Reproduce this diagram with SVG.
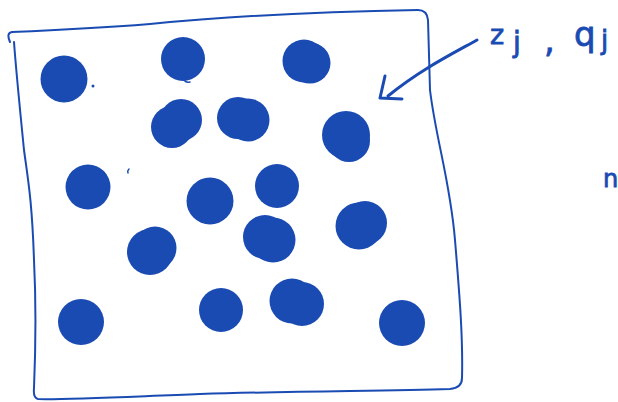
<svg xmlns="http://www.w3.org/2000/svg" width="618" height="402" viewBox="0 0 618 402">
<style>
.ink{fill:none;stroke:#1a4bb3;stroke-linecap:round;stroke-linejoin:round}
.dot{fill:#1a4bb3}
.t{font-family:"DejaVu Sans","Liberation Sans",sans-serif;fill:#1a4bb3;stroke:#1a4bb3;stroke-width:0.8}
</style>
<rect width="618" height="402" fill="#fff"/>
<g id="frame">
<path class="ink" stroke-width="2" d="M10,42 Q6,33 12,32 C60,30 100,28 150,24 C220,17 300,12 418,10 Q427,10 428,20 L430,90 C436,140 450,180 455,240 C460,300 463,340 462,378 Q462,388 450,389 C380,391 300,391 200,394 C120,397 60,400 38,399 Q33,398 34,388 C36,340 36,300 34,260 C32,200 28,180 24,150 C20,110 16,70 14,42"/>
</g>
<g id="dots">
<circle class="dot" cx="64" cy="79" r="23.5"/>
<circle class="dot" cx="183" cy="59" r="22"/>
<circle class="dot" cx="304" cy="61" r="21.5"/><circle class="dot" cx="310" cy="63" r="20.5"/>
<circle class="dot" cx="172" cy="127" r="21"/><circle class="dot" cx="181" cy="120" r="21"/>
<circle class="dot" cx="238" cy="118" r="21"/><circle class="dot" cx="248" cy="120" r="21.5"/>
<circle class="dot" cx="346" cy="135" r="24"/><circle class="dot" cx="349" cy="141" r="21"/>
<circle class="dot" cx="88" cy="187" r="22.5"/>
<circle class="dot" cx="210" cy="201" r="23.5"/>
<circle class="dot" cx="277" cy="186" r="22"/>
<circle class="dot" cx="150" cy="252" r="23"/><circle class="dot" cx="155" cy="248" r="21.5"/>
<circle class="dot" cx="265" cy="237" r="22"/><circle class="dot" cx="273" cy="240" r="22.5"/>
<circle class="dot" cx="359" cy="226" r="23.5"/><circle class="dot" cx="365" cy="223" r="22"/>
<circle class="dot" cx="81" cy="322" r="23"/>
<circle class="dot" cx="221" cy="310" r="22"/>
<circle class="dot" cx="292" cy="301" r="22.5"/><circle class="dot" cx="302" cy="304" r="22"/>
<circle class="dot" cx="402" cy="323" r="23"/>
<circle class="dot" cx="93" cy="86" r="1.5"/>
<path class="ink" stroke-width="1.5" d="M184,80 Q186,83 190,82"/>
<path class="ink" stroke-width="1.5" d="M129,169 Q127,171 128,173"/>
</g>
<g id="connectors">
<path class="ink" stroke-width="3" d="M477,40 C450,55 420,70 388,96"/>
<path class="ink" stroke-width="3" d="M385,76 L380,98 L402,99"/>
</g>
<g id="label">
<text class="t" x="490" y="44" font-size="27">z</text>
<text class="t" x="513" y="52" font-size="28">j</text>
<text class="t" x="544" y="52" font-size="34">,</text>
<text class="t" x="574" y="46" font-size="34">q</text>
<text class="t" x="601" y="49" font-size="26">j</text>
<text class="t" x="603" y="187" font-size="24">n</text>
</g>
</svg>
